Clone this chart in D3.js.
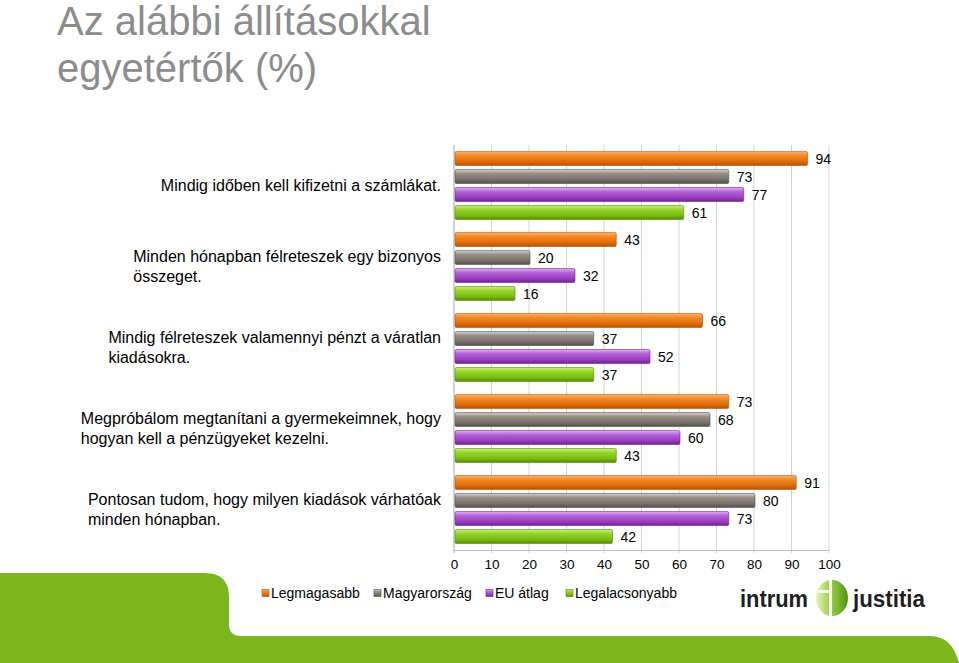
<!DOCTYPE html>
<html lang="hu">
<head>
<meta charset="utf-8"/>
<script src="https://d3js.org/d3.v7.min.js"></script>
<title>Az alábbi állításokkal egyetértők (%)</title>
<style>
  body { margin: 0; background: #fff; }
  svg { display: block; font-family: "Liberation Sans", Arial, sans-serif; }
  svg text { font-family: "Liberation Sans", Arial, sans-serif; }
</style>
</head>
<body>
<svg id="chart"></svg>
<script>
  const width = 959;
  const height = 663;

  // data
  const categories = [
    ["Mindig időben kell kifizetni a számlákat."],
    ["Minden hónapban félreteszek egy bizonyos", "összeget."],
    ["Mindig félreteszek valamennyi pénzt a váratlan", "kiadásokra."],
    ["Megpróbálom megtanítani a gyermekeimnek, hogy", "hogyan kell a pénzügyeket kezelni."],
    ["Pontosan tudom, hogy milyen kiadások várhatóak", "minden hónapban."]
  ];
  const seriesNames = ["Legmagasabb", "Magyarország", "EU átlag", "Legalacsonyabb"];
  const legmagasabb = [94, 43, 66, 73, 91];
  const magyarorszag = [73, 20, 37, 68, 80];
  const euAtlag = [77, 32, 52, 60, 73];
  const legalacsonyabb = [61, 16, 37, 43, 42];
  const xTicks = [0, 10, 20, 30, 40, 50, 60, 70, 80, 90, 100];

  const seriesValues = [legmagasabb, magyarorszag, euAtlag, legalacsonyabb];
  const gradStops = [
    ["#fbb26c", "#f28a26", "#e06c0a", "#b85404"],
    ["#d6d2ce", "#958e87", "#7a736c", "#55504b"],
    ["#e2b0f2", "#b462d8", "#9a40c0", "#6e2490"],
    ["#c8f07a", "#96d42c", "#7cbc12", "#558a06"]
  ];

  const svg = d3.select("#chart").attr("width", width).attr("height", height);
  const defs = svg.append("defs");

  gradStops.forEach((s, i) => {
    const g = defs.append("linearGradient")
      .attr("id", "grad" + i)
      .attr("x1", 0).attr("y1", 0).attr("x2", 0).attr("y2", 1);
    g.append("stop").attr("offset", "0%").attr("stop-color", s[0]);
    g.append("stop").attr("offset", "30%").attr("stop-color", s[1]);
    g.append("stop").attr("offset", "70%").attr("stop-color", s[2]);
    g.append("stop").attr("offset", "100%").attr("stop-color", s[3]);
  });

  const logoGrad = defs.append("linearGradient")
    .attr("id", "logoGrad").attr("x1", 0).attr("y1", 0).attr("x2", 1).attr("y2", 0);
  logoGrad.append("stop").attr("offset", "0%").attr("stop-color", "#e4f3b8");
  logoGrad.append("stop").attr("offset", "45%").attr("stop-color", "#9ccd4a");
  logoGrad.append("stop").attr("offset", "100%").attr("stop-color", "#4f9512");

  // green background shape
  svg.append("path")
    .attr("d", "M0,573 L205,573 Q229,573 229,597 L229,624 Q229,636 241,636 L930,636 Q952,636 959,663 L0,663 Z")
    .attr("fill", "#7db51f");

  // title
  const title = svg.append("text")
    .attr("fill", "#8c8c8c")
    .style("font-size", "40px");
  title.append("tspan").attr("x", 57).attr("y", 35).text("Az alábbi állításokkal");
  title.append("tspan").attr("x", 57).attr("y", 82).text("egyetértők (%)");

  const plot = { left: 454, right: 829, top: 145, bottom: 550 };

  const x = d3.scaleLinear().domain([0, 100]).range([plot.left, plot.right]);
  const y0 = d3.scaleBand()
    .domain(d3.range(categories.length))
    .range([plot.top, plot.bottom])
    .paddingInner(0.11)
    .paddingOuter(0.055);
  const y1 = d3.scaleBand()
    .domain(d3.range(seriesNames.length))
    .range([0, y0.bandwidth()])
    .paddingInner(0.22)
    .paddingOuter(0.11);

  // grid
  svg.append("g")
    .selectAll("line")
    .data(xTicks)
    .join("line")
    .attr("x1", d => x(d)).attr("x2", d => x(d))
    .attr("y1", plot.top).attr("y2", plot.bottom + 3)
    .attr("stroke", d => d === 0 ? "#a8a8a8" : "#d4d4d4")
    .attr("stroke-width", 1);

  svg.append("line")
    .attr("x1", plot.left).attr("x2", plot.right)
    .attr("y1", plot.bottom + 0.5).attr("y2", plot.bottom + 0.5)
    .attr("stroke", "#bdbdbd");

  // x axis labels
  const xAxis = svg.append("g")
    .attr("transform", "translate(0," + (plot.bottom + 9) + ")")
    .call(d3.axisBottom(x).tickValues(xTicks).tickSize(0).tickPadding(0));
  xAxis.select(".domain").remove();
  xAxis.attr("font-family", null).attr("font-size", null);
  xAxis.selectAll("text")
    .attr("fill", "#000")
    .style("font-size", "13.5px");

  // bars
  const groups = svg.append("g")
    .selectAll("g")
    .data(categories.map((c, i) => i))
    .join("g")
    .attr("transform", i => "translate(0," + y0(i) + ")");

  groups.selectAll("rect")
    .data(i => seriesValues.map((s, k) => ({ k: k, v: s[i] })))
    .join("rect")
    .attr("x", x(0) + 1)
    .attr("y", d => y1(d.k))
    .attr("width", d => x(d.v) - x(0))
    .attr("height", y1.bandwidth())
    .attr("fill", d => "url(#grad" + d.k + ")")
    .attr("stroke", d => gradStops[d.k][3])
    .attr("stroke-width", 0.6)
    .attr("rx", 1.5);

  groups.selectAll("text.val")
    .data(i => seriesValues.map((s, k) => ({ k: k, v: s[i] })))
    .join("text")
    .attr("class", "val")
    .attr("x", d => x(d.v) + 9)
    .attr("y", d => y1(d.k) + y1.bandwidth() / 2)
    .attr("dy", "0.36em")
    .attr("fill", "#000")
    .style("font-size", "14px")
    .text(d => d.v);

  // category labels: left-aligned block ending at x=440
  categories.forEach((lines, i) => {
    const g = svg.append("g");
    const cy = y0(i) + y0.bandwidth() / 2;
    const lh = 20;
    const t = g.selectAll("text")
      .data(lines)
      .join("text")
      .attr("y", (d, j) => cy + (j - (lines.length - 1) / 2) * lh)
      .attr("dy", "0.36em")
      .attr("fill", "#000")
      .style("font-size", "16px")
      .text(d => d);
    let maxW = 0;
    t.each(function() { maxW = Math.max(maxW, this.getComputedTextLength()); });
    t.attr("x", 441 - maxW);
  });

  // legend
  const legendX = [262, 374, 486, 566];
  const legend = svg.append("g")
    .selectAll("g")
    .data(seriesNames)
    .join("g")
    .attr("transform", (d, i) => "translate(" + legendX[i] + ",593)");
  legend.append("rect")
    .attr("x", 0).attr("y", -3.5)
    .attr("width", 7).attr("height", 7)
    .attr("fill", (d, i) => "url(#grad" + i + ")")
    .attr("stroke", (d, i) => gradStops[i][3])
    .attr("stroke-width", 0.6);
  legend.append("text")
    .attr("x", 9).attr("dy", "0.36em")
    .attr("fill", "#000")
    .style("font-size", "14px")
    .text(d => d);

  // logo
  const logo = svg.append("g");
  logo.append("text")
    .attr("x", 740).attr("y", 607)
    .attr("fill", "#1e1e1e")
    .style("font-size", "23px").style("font-weight", "bold")
    .attr("textLength", 68).attr("lengthAdjust", "spacingAndGlyphs")
    .text("intrum");
  logo.append("ellipse")
    .attr("cx", 832).attr("cy", 598).attr("rx", 16).attr("ry", 18)
    .attr("fill", "url(#logoGrad)");
  logo.append("rect")
    .attr("x", 829).attr("y", 580).attr("width", 3).attr("height", 36)
    .attr("fill", "#f6fbea");
  logo.append("rect")
    .attr("x", 816).attr("y", 590).attr("width", 14).attr("height", 3)
    .attr("fill", "#f6fbea");
  logo.append("text")
    .attr("x", 853).attr("y", 607)
    .attr("fill", "#1e1e1e")
    .style("font-size", "23px").style("font-weight", "bold")
    .attr("textLength", 72).attr("lengthAdjust", "spacingAndGlyphs")
    .text("justitia");
</script>
</body>
</html>
